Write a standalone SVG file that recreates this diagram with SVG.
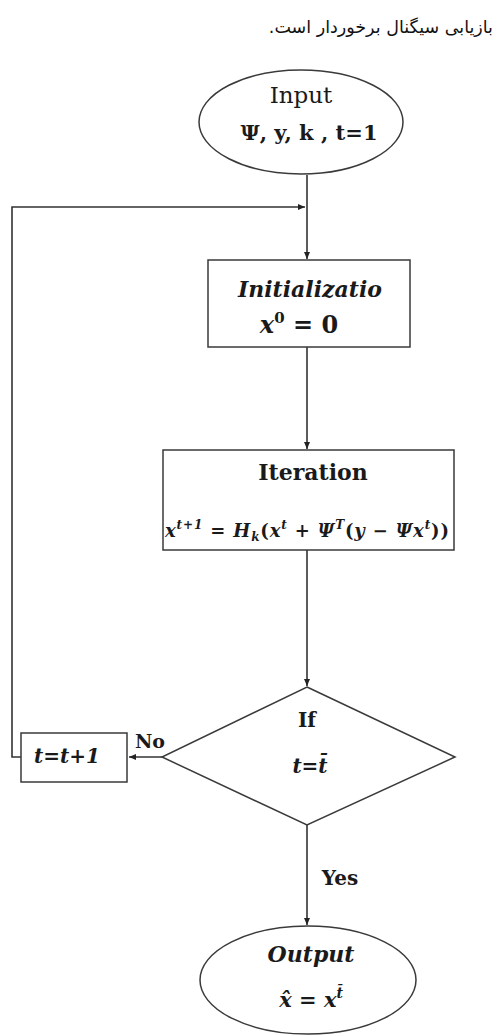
<svg xmlns="http://www.w3.org/2000/svg" width="501" height="1036" viewBox="0 0 501 1036">
<style>
.shape{fill:#fff;stroke:#3a3a3a;stroke-width:1.5}
.line{fill:none;stroke:#333;stroke-width:1.6}
.t{font-family:"DejaVu Serif","Liberation Serif",serif;fill:#1a1a1a;text-anchor:middle}
.b{font-weight:bold}
.i{font-style:italic}
.fa{font-family:"DejaVu Sans","Noto Sans",sans-serif;font-size:17.5px;fill:#111}
</style>
<defs>
<marker id="arr" markerWidth="8" markerHeight="8" refX="7" refY="4" orient="auto" markerUnits="userSpaceOnUse">
<path d="M0,1 L7,4 L0,7 Z" fill="#222"/>
</marker>
</defs>
<rect width="501" height="1036" fill="#fff"/>
<text class="fa" x="493" y="33" direction="rtl" unicode-bidi="embed" text-anchor="start">بازیابی سیگنال برخوردار است.</text>

<g id="connectors">
<line class="line" x1="307" y1="175" x2="307" y2="259" marker-end="url(#arr)"/>
<polyline class="line" points="21,757 12,757 12,207 305,207" marker-end="url(#arr)"/>
<line class="line" x1="307" y1="347" x2="307" y2="449" marker-end="url(#arr)"/>
<line class="line" x1="307" y1="550" x2="307" y2="686" marker-end="url(#arr)"/>
<line class="line" x1="162" y1="757" x2="129" y2="757" marker-end="url(#arr)"/>
<line class="line" x1="307" y1="825" x2="307" y2="925" marker-end="url(#arr)"/>
<text class="t b" x="150" y="748" font-size="19">No</text>
<text class="t b" x="340" y="885" font-size="20">Yes</text>
</g>

<g id="input">
<ellipse class="shape" cx="301" cy="122" rx="102" ry="52"/>
<text class="t" x="301" y="103" font-size="23">Input</text>
<text class="t b" x="309" y="140" font-size="21">Ψ, y, k , t=1</text>
</g>

<g id="init">
<rect class="shape" x="208" y="260" width="202" height="87"/>
<text class="t b i" x="310" y="297" font-size="22">Initializatio</text>
<text class="t b i" x="299" y="333" font-size="24">x<tspan font-size="15" dy="-10" font-style="normal">0</tspan><tspan dy="10" font-style="normal"> = 0</tspan></text>
</g>

<g id="iteration">
<rect class="shape" x="163" y="450" width="291" height="100"/>
<text class="t b" x="313" y="480" font-size="22">Iteration</text>
<text class="t b i" x="307" y="537" font-size="18" textLength="284">x<tspan font-size="12" dy="-8">t+1</tspan><tspan dy="8" font-style="normal"> = </tspan>H<tspan font-size="12" dy="4">k</tspan><tspan dy="-4" font-style="normal">(</tspan>x<tspan font-size="12" dy="-8">t</tspan><tspan dy="8" font-style="normal"> + </tspan>Ψ<tspan font-size="12" dy="-8">T</tspan><tspan dy="8" font-style="normal">(</tspan>y<tspan font-style="normal"> − </tspan>Ψx<tspan font-size="12" dy="-8">t</tspan><tspan dy="8" font-style="normal">))</tspan></text>
</g>

<g id="decision">
<polygon class="shape" points="307,687 455,757 307,825 162,757"/>
<text class="t b" x="307" y="727" font-size="20">If</text>
<text class="t b i" x="310" y="773" font-size="20">t=t̄</text>
</g>

<g id="increment">
<rect class="shape" x="21" y="733" width="106" height="49"/>
<text class="t b i" x="67" y="763" font-size="20">t=t+1</text>
</g>

<g id="output">
<ellipse class="shape" cx="308" cy="980" rx="108" ry="54"/>
<text class="t b i" x="311" y="962" font-size="22">Output</text>
<text class="t b i" x="311" y="1007" font-size="21">x̂<tspan font-style="normal"> = </tspan>x<tspan font-size="14" dy="-9">t̄</tspan></text>
</g>
</svg>
